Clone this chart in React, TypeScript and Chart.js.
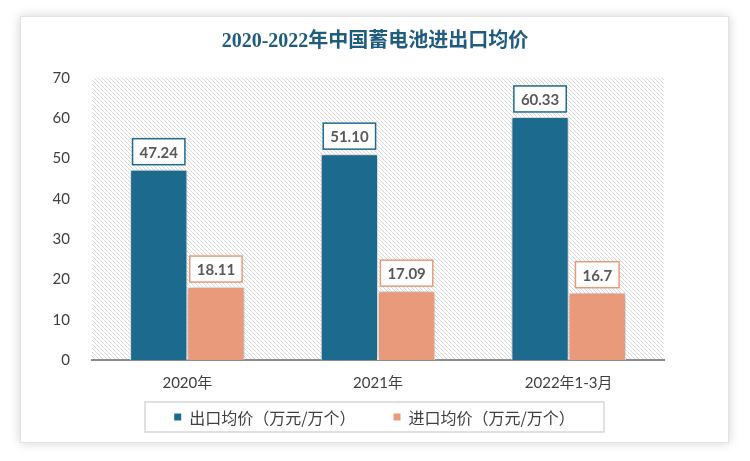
import { useEffect, useRef } from 'react';
import { Chart, registerables } from 'chart.js';

Chart.register(...registerables);

const categories = ['2020年', '2021年', '2022年1-3月'];
const exportValues = [47.24, 51.1, 60.33];
const importValues = [18.11, 17.09, 16.7];
const exportLabels = ['47.24', '51.10', '60.33'];
const importLabels = ['18.11', '17.09', '16.7'];
const seriesNames = ['出口均价（万元/万个）', '进口均价（万元/万个）'];
const seriesColors = ['#1d6a8f', '#e89a7b'];
const yMin = 0;
const yMax = 70;
const yStep = 10;
const titleText = '2020-2022年中国蓄电池进出口均价';

const latin = "Lato, 'Noto Sans CJK SC', sans-serif";
const cjk = "'Noto Sans CJK SC', sans-serif";

function makePattern(ctx: CanvasRenderingContext2D) {
  const c = document.createElement('canvas');
  c.width = 4;
  c.height = 4;
  const p = c.getContext('2d')!;
  p.fillStyle = '#ffffff';
  p.fillRect(0, 0, 4, 4);
  p.fillStyle = '#d9d9d9';
  for (let i = 0; i < 4; i++) p.fillRect(i, i, 1, 1);
  return ctx.createPattern(c, 'repeat');
}

const bgPlugin = {
  id: 'bgPattern',
  beforeDraw(chart: any) {
    const { ctx, chartArea } = chart;
    const pat = makePattern(ctx);
    ctx.save();
    ctx.fillStyle = pat;
    ctx.fillRect(chartArea.left, chartArea.top, chartArea.right - chartArea.left, chartArea.bottom - chartArea.top);
    ctx.restore();
  },
};

const shadowPlugin = {
  id: 'barShadow',
  beforeDatasetDraw(chart: any) {
    const ctx = chart.ctx;
    ctx.save();
    ctx.shadowColor = 'rgba(0,0,0,0.35)';
    ctx.shadowBlur = 6;
    ctx.shadowOffsetX = 0;
    ctx.shadowOffsetY = 0;
  },
  afterDatasetDraw(chart: any) {
    chart.ctx.restore();
  },
};

const labelPlugin = {
  id: 'valueBoxes',
  afterDatasetsDraw(chart: any) {
    const ctx = chart.ctx;
    const labelSets = [exportLabels, importLabels];
    ctx.save();
    ctx.font = `bold 15px ${latin}`;
    chart.data.datasets.forEach((ds: any, di: number) => {
      const meta = chart.getDatasetMeta(di);
      meta.data.forEach((bar: any, i: number) => {
        const text = labelSets[di][i];
        const w = ctx.measureText(text).width + 14;
        const h = 26;
        const x = bar.x - w / 2;
        const y = bar.y - 5 - h;
        ctx.fillStyle = '#ffffff';
        ctx.fillRect(x, y, w, h);
        ctx.strokeStyle = ds.backgroundColor;
        ctx.lineWidth = 1.5;
        ctx.strokeRect(x, y, w, h);
        ctx.fillStyle = '#595959';
        ctx.textAlign = 'center';
        ctx.textBaseline = 'middle';
        ctx.fillText(text, bar.x, y + h / 2 + 1);
      });
    });
    ctx.restore();
  },
};

const decorPlugin = {
  id: 'decor',
  afterDraw(chart: any) {
    const ctx = chart.ctx;
    ctx.save();
    // title
    ctx.font = `bold 20px 'Liberation Serif', 'Noto Sans CJK SC', serif`;
    ctx.fillStyle = '#1f5c7d';
    ctx.textAlign = 'center';
    ctx.textBaseline = 'middle';
    ctx.fillText(titleText, 375, 42);

    // legend
    const boxL = 145, boxT = 402, boxW = 459, boxH = 30;
    ctx.strokeStyle = '#d6d6d6';
    ctx.lineWidth = 1.5;
    ctx.strokeRect(boxL, boxT, boxW, boxH);
    ctx.font = `16px ${cjk}`;
    const marker = 7, gapText = 8, gapItem = 38;
    const widths = seriesNames.map((n) => marker + gapText + ctx.measureText(n).width);
    const total = widths.reduce((a, b) => a + b, 0) + gapItem * (widths.length - 1);
    let x = boxL + boxW / 2 - total / 2;
    const cy = boxT + boxH / 2;
    seriesNames.forEach((n, i) => {
      ctx.fillStyle = seriesColors[i];
      ctx.fillRect(x, cy - marker / 2, marker, marker);
      ctx.fillStyle = '#404040';
      ctx.textAlign = 'left';
      ctx.textBaseline = 'middle';
      ctx.fillText(n, x + marker + gapText, cy + 1);
      x += widths[i] + gapItem;
    });
    ctx.restore();
  },
};

export default function App() {
  const ref = useRef<HTMLCanvasElement>(null);
  useEffect(() => {
    if (!ref.current) return;
    const chart = new Chart(ref.current, {
      type: 'bar',
      data: {
        labels: categories,
        datasets: [
          {
            label: seriesNames[0],
            data: exportValues,
            backgroundColor: seriesColors[0],
            borderColor: '#ffffff',
            borderWidth: 1,
          },
          {
            label: seriesNames[1],
            data: importValues,
            backgroundColor: seriesColors[1],
            borderColor: '#ffffff',
            borderWidth: 1,
          },
        ],
      },
      options: {
        responsive: false,
        animation: false,
        categoryPercentage: 0.6,
        barPercentage: 1.0,
        layout: { padding: { left: 20, right: 86, top: 78, bottom: 61 } },
        plugins: {
          legend: { display: false },
          title: { display: false },
          tooltip: { enabled: false },
        },
        scales: {
          x: {
            grid: { display: false },
            border: { display: true, color: '#8c8c8c', width: 2 },
            ticks: {
              color: '#404040',
              font: { size: 15, family: latin },
              padding: 6,
              maxRotation: 0,
            },
            afterFit: (s: any) => {
              s.height = 40;
            },
          },
          y: {
            min: yMin,
            max: yMax,
            grid: { display: false },
            border: { display: false },
            ticks: {
              stepSize: yStep,
              color: '#404040',
              font: { size: 15, family: latin },
              padding: 14,
            },
            afterFit: (s: any) => {
              s.width = 72;
            },
          },
        },
      },
      plugins: [bgPlugin, shadowPlugin, labelPlugin, decorPlugin],
    });
    return () => chart.destroy();
  }, []);

  return (
    <div style={{ position: 'fixed', left: 0, top: 0, width: 750, height: 461, background: '#ffffff' }}>
      <div
        style={{
          position: 'absolute',
          left: 20,
          top: 16,
          width: 709,
          height: 427,
          boxSizing: 'border-box',
          border: '1px solid #e3e3e3',
          background: '#ffffff',
          boxShadow: '0 0 10px rgba(0,0,0,0.18)',
        }}
      />
      <canvas ref={ref} width={750} height={461} style={{ position: 'absolute', left: 0, top: 0 }} />
    </div>
  );
}
